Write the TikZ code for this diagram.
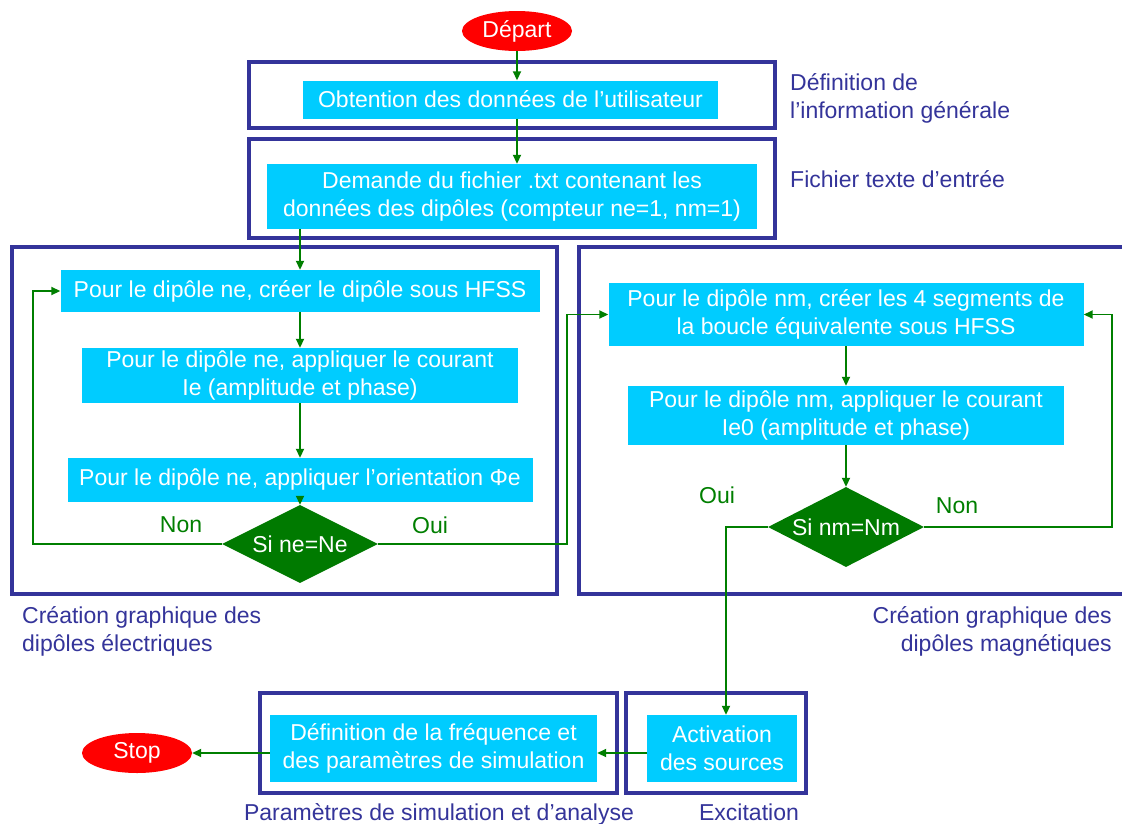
\documentclass[tikz,border=0pt]{standalone}
\usepackage{fontspec}
\setmainfont{Liberation Sans}
\usetikzlibrary{shapes.geometric,arrows.meta,calc}
\definecolor{grpblue}{HTML}{34349A}
\definecolor{cyanfill}{HTML}{00CCFF}
\definecolor{arrgreen}{HTML}{007F00}
\definecolor{diagreen}{HTML}{007A00}
\definecolor{stopred}{HTML}{FF0000}
\begin{document}
\begin{tikzpicture}[x=1pt,y=-1pt,
  txt/.style={font=\fontsize{23}{28}\selectfont},
  proc/.style={txt, fill=cyanfill, text=white, align=center, inner sep=0pt},
  deci/.style={txt, shape=diamond, fill=diagreen, text=white, inner sep=0pt, shape aspect=2},
  term/.style={txt, shape=ellipse, fill=stopred, text=white, inner sep=0pt},
  grp/.style={draw=grpblue, line width=4pt},
  glabel/.style={txt, text=grpblue, inner sep=0pt},
  ylabel/.style={txt, text=arrgreen, inner sep=0pt},
  arr/.style={draw=arrgreen, line width=1.8pt, -{Triangle[length=9pt,width=8pt]}}
]
\useasboundingbox (0,0) rectangle (1122,823);
\fill[white] (0,0) rectangle (1122,823);

% group boxes
\draw[grp] (249,62) rectangle (775,128);
\draw[grp] (249,139) rectangle (775,238);
\draw[grp] (12,247) rectangle (557,594);
\draw[grp] (579,247) rectangle (1135,594);
\draw[grp] (260,693) rectangle (617,793);
\draw[grp] (626,693) rectangle (806,793);

% nodes
\node[term, minimum width=110, minimum height=40] (dep) at (517,31) {Départ};
\node[proc, minimum width=415, minimum height=38] (obt) at (510.5,99.5) {Obtention des données de l’utilisateur};
\node[proc, minimum width=490, minimum height=65] (dem) at (512,196.5) {Demande du fichier .txt contenant les\\données des dipôles (compteur ne=1, nm=1)};

\node[proc, minimum width=479, minimum height=42] (e1) at (300,291) {Pour le dipôle ne, créer le dipôle sous HFSS};
\node[proc, minimum width=436, minimum height=55] (e2) at (300,375.5) {Pour le dipôle ne, appliquer le courant\\Ie (amplitude et phase)};
\node[proc, minimum width=465, minimum height=44] (e3) at (300,480) {Pour le dipôle ne, appliquer l’orientation Φe};
\node[deci, minimum width=156, minimum height=78] (dE) at (300,544) {Si ne=Ne};

\node[proc, minimum width=475, minimum height=63] (m1) at (846,314.5) {Pour le dipôle nm, créer les 4 segments de\\la boucle équivalente sous HFSS};
\node[proc, minimum width=436, minimum height=59] (m2) at (846,415.5) {Pour le dipôle nm, appliquer le courant\\Ie0 (amplitude et phase)};
\node[deci, minimum width=156, minimum height=80] (dM) at (846,527) {Si nm=Nm};

\node[proc, minimum width=150, minimum height=67] (act) at (722,748.5) {Activation\\des sources};
\node[proc, minimum width=327, minimum height=67] (freq) at (433.5,748.5) {Définition de la fréquence et\\des paramètres de simulation};
\node[term, minimum width=110, minimum height=40] (stop) at (137,753) {Stop};

% group labels
\node[glabel, anchor=base west, align=left] (lab1) at (790,118) {Définition de\\l’information générale};
\node[glabel, anchor=base west] (lab2) at (790,187) {Fichier texte d’entrée};
\node[glabel, anchor=base west, align=left] (lab3) at (22,651) {Création graphique des\\dipôles électriques};
\node[glabel, anchor=base east, align=right] (lab4) at (1112,651) {Création graphique des\\dipôles magnétiques};
\node[glabel, anchor=base] (lab5) at (439,820) {Paramètres de simulation et d’analyse};
\node[glabel, anchor=base] (lab6) at (749,820) {Excitation};

% yes/no labels
\node[ylabel] (nonL) at (181,525) {Non};
\node[ylabel] (ouiL) at (430,525) {Oui};
\node[ylabel] (ouiR) at (717,495) {Oui};
\node[ylabel] (nonR) at (957,506) {Non};

% loop coordinates
\coordinate (lL) at (33,0);
\coordinate (lR) at (567,0);
\coordinate (rR) at (1112,0);
\coordinate (rL) at (726,0);

% connectors
\draw[arr] (dep.south) -- (dep.south |- obt.north);
\draw[arr] (dep.south |- obt.south) -- (dep.south |- dem.north);
\draw[arr] (e1.north |- dem.south) -- (e1.north);
\draw[arr] (e1.south) -- (e2.north);
\draw[arr] (e2.south) -- (e3.north);
\draw[arr] (e3.south) -- (dE.north);
\draw[arr] (dE.west) -- (dE.west -| lL) |- (e1.west);
\draw[arr] (dE.east) -- (dE.east -| lR) |- (m1.west);
\draw[arr] (m1.south) -- (m2.north);
\draw[arr] (m2.south) -- (dM.north);
\draw[arr] (dM.east) -- (dM.east -| rR) |- (m1.east);
\draw[arr] (dM.west) -- (dM.west -| rL) -- (rL |- act.north);
\draw[arr] (act.west |- stop.east) -- (freq.east |- stop.east);
\draw[arr] (freq.west |- stop.east) -- (stop.east);
\end{tikzpicture}
\end{document}
